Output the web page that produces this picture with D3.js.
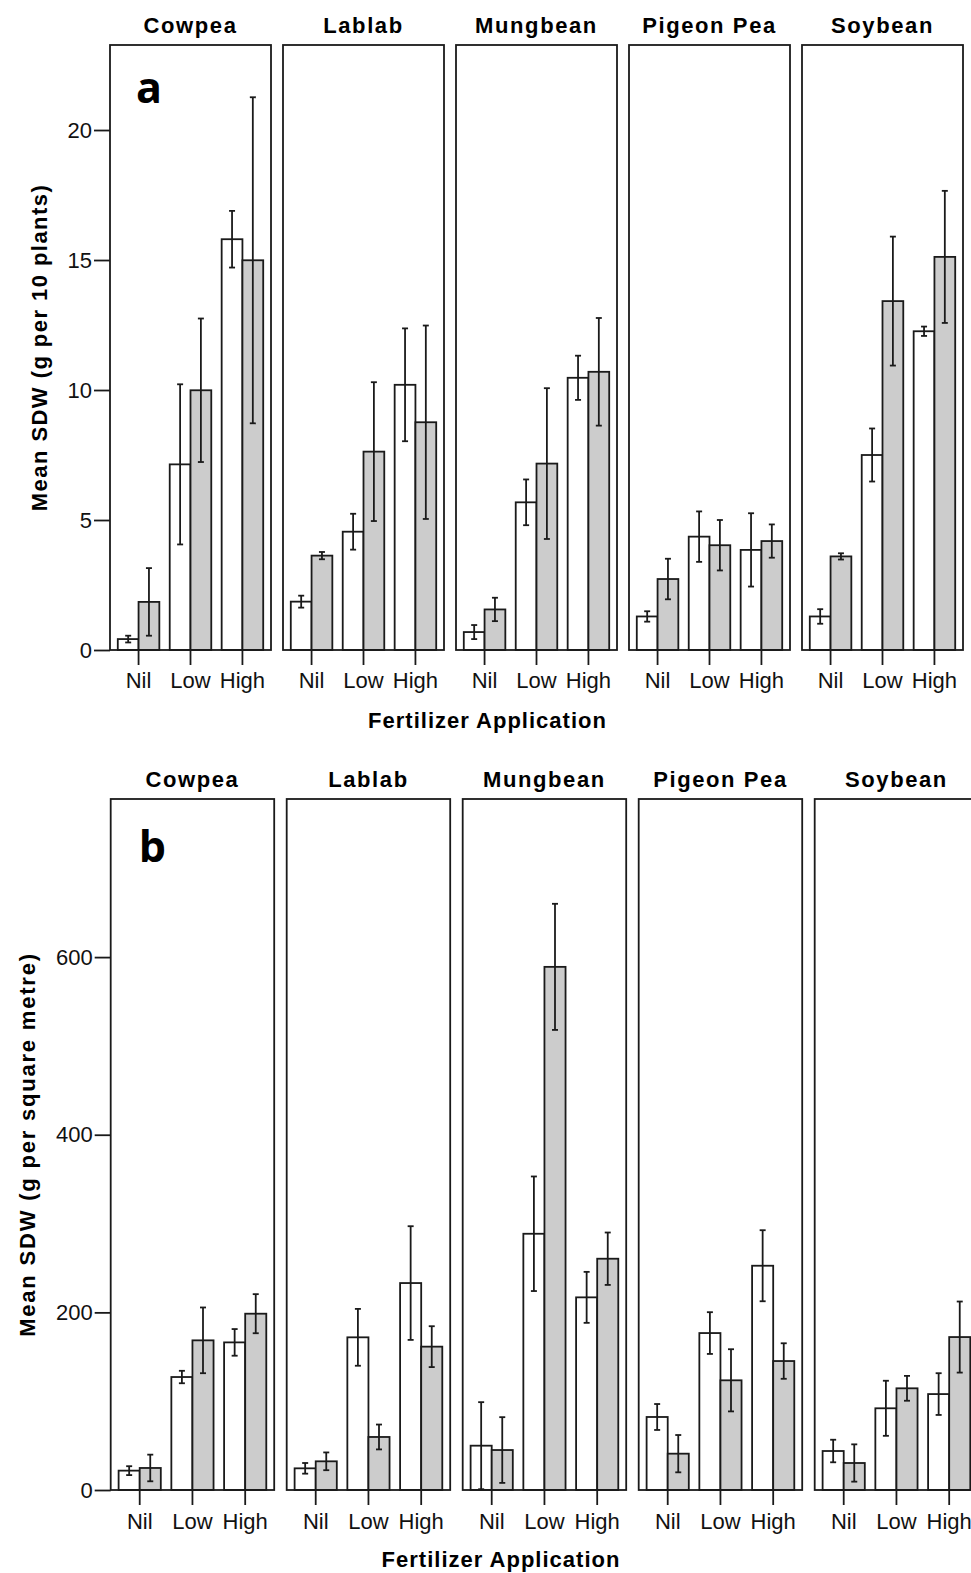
<!DOCTYPE html>
<html>
<head>
<meta charset="utf-8">
<script src="https://cdn.jsdelivr.net/npm/d3@7"></script>
<style>
  body { margin: 0; background: #fff; }
  svg { display: block; }
</style>
</head>
<body>
<div id="chart-area"></div>
<script>
// categorias e níveis
const crops = ["Cowpea", "Lablab", "Mungbean", "Pigeon Pea", "Soybean"]
const levels = ["Nil", "Low", "High"]
const series = ["open", "shaded"]

// painel a - g por 10 plantas (linhas = cultura, colunas = Nil/Low/High)
const plantsOpen = [[0.42, 7.14, 15.8], [1.86, 4.55, 10.2], [0.69, 5.68, 10.47], [1.29, 4.36, 3.85], [1.29, 7.5, 12.26]]
const plantsOpenErr = [[0.13, 3.08, 1.09], [0.23, 0.69, 2.17], [0.27, 0.88, 0.85], [0.2, 0.97, 1.41], [0.28, 1.02, 0.18]]
const plantsShaded = [[1.85, 9.99, 14.99], [3.63, 7.63, 8.76], [1.56, 7.17, 10.7], [2.73, 4.03, 4.19], [3.6, 13.42, 15.12]]
const plantsShadedErr = [[1.3, 2.76, 6.27], [0.14, 2.67, 3.72], [0.45, 2.9, 2.07], [0.78, 0.97, 0.64], [0.12, 2.48, 2.54]]
const plantsTicks = [0, 5, 10, 15, 20]

// painel b - g por metro quadrado
const areaOpen = [[21.8, 127.2, 166.2], [24.4, 171.9, 233], [49.9, 288.5, 216.9], [82.2, 176.7, 252.5], [43.9, 92, 108]]
const areaOpenErr = [[5, 7, 15], [6, 32, 64], [49, 64.5, 28.7], [14.6, 23.5, 40], [12.7, 31, 23.5]]
const areaShaded = [[24.8, 168.5, 198.5], [32.3, 59.7, 161.4], [45, 589, 260.4], [40.9, 123.5, 145.2], [30.4, 114.5, 172.2]]
const areaShadedErr = [[15, 37, 22], [10, 14, 23], [37, 71, 29.5], [21, 35, 20], [21, 14, 40]]
const areaTicks = [0, 200, 400, 600]

const W = 971
const H = 1573
const INK = "#1a1a1a"
const SANS = "'Liberation Sans', Arial, sans-serif"

const svg = d3.select("#chart-area").append("svg")
  .attr("width", W)
  .attr("height", H)

// desenha uma linha de 5 painéis
function drawSection(opt) {
  const y = d3.scaleLinear().domain([0, opt.yMax]).range([opt.bottom, opt.top])
  const x = d3.scaleBand().domain(levels).range([0, opt.panelW])
    .paddingInner(0.2).paddingOuter(0.15)
  const xs = d3.scaleBand().domain(series).range([0, x.bandwidth()])

  const sec = svg.append("g")

  crops.forEach((crop, ci) => {
    const px = opt.left + ci * opt.step
    const g = sec.append("g").attr("transform", `translate(${px}, 0)`)

    // título do painel
    g.append("text")
      .attr("x", opt.panelW / 2)
      .attr("y", opt.titleY)
      .attr("text-anchor", "middle")
      .attr("font-family", SANS)
      .attr("font-weight", "bold")
      .attr("font-size", "22px")
      .attr("letter-spacing", "1.6px")
      .text(crop)

    const rows = levels.map((lv, li) => [
      { lv, s: "open", v: opt.open[ci][li], e: opt.openErr[ci][li] },
      { lv, s: "shaded", v: opt.shaded[ci][li], e: opt.shadedErr[ci][li] }
    ]).flat()

    // barras
    g.selectAll("rect.bar").data(rows).enter().append("rect")
      .attr("class", "bar")
      .attr("x", d => x(d.lv) + xs(d.s))
      .attr("width", xs.bandwidth())
      .attr("y", d => y(d.v))
      .attr("height", d => y(0) - y(d.v))
      .attr("fill", d => d.s === "open" ? "#ffffff" : "#cccccc")
      .attr("stroke", INK)
      .attr("stroke-width", 1.8)

    // barras de erro
    const eb = g.selectAll("g.err").data(rows).enter().append("g")
      .attr("class", "err")
      .attr("transform", d => `translate(${x(d.lv) + xs(d.s) + xs.bandwidth() / 2}, 0)`)
      .attr("stroke", INK)
      .attr("stroke-width", 1.8)
    eb.append("line")
      .attr("y1", d => y(d.v + d.e)).attr("y2", d => y(Math.max(0, d.v - d.e)))
    eb.append("line")
      .attr("x1", -3).attr("x2", 3)
      .attr("y1", d => y(d.v + d.e)).attr("y2", d => y(d.v + d.e))
    eb.append("line")
      .attr("x1", -3).attr("x2", 3)
      .attr("y1", d => y(Math.max(0, d.v - d.e))).attr("y2", d => y(Math.max(0, d.v - d.e)))

    // moldura do painel
    g.append("rect")
      .attr("x", 0).attr("y", opt.top)
      .attr("width", opt.panelW).attr("height", opt.bottom - opt.top)
      .attr("fill", "none")
      .attr("stroke", INK)
      .attr("stroke-width", 1.8)

    // eixo x
    const xAxis = g.append("g")
      .attr("transform", `translate(0, ${opt.bottom})`)
      .call(d3.axisBottom(x).tickSize(15).tickSizeOuter(0).tickPadding(opt.xPad))
    xAxis.select(".domain").remove()
    xAxis.selectAll(".tick line").attr("stroke", INK).attr("stroke-width", 1.8)
    xAxis.selectAll("text")
      .attr("font-family", SANS)
      .attr("font-size", "22px")
      .attr("fill", "#111")

    // eixo y apenas no primeiro painel
    if (ci === 0) {
      const yAxis = g.append("g")
        .call(d3.axisLeft(y).tickValues(opt.ticks).tickSize(16).tickPadding(2).tickSizeOuter(0))
      yAxis.select(".domain").remove()
      yAxis.selectAll(".tick line").attr("stroke", INK).attr("stroke-width", 1.8)
      yAxis.selectAll("text")
        .attr("font-family", SANS)
        .attr("font-size", "22px")
        .attr("fill", "#111")

      // letra do painel
      g.append("text")
        .attr("x", opt.letterX)
        .attr("y", opt.letterY)
        .attr("font-family", "'Open Sans', sans-serif")
        .attr("font-weight", "bold")
        .attr("font-size", "43px")
        .text(opt.letter)
    }
  })

  // título do eixo x
  sec.append("text")
    .attr("x", opt.xTitleX)
    .attr("y", opt.xTitleY)
    .attr("text-anchor", "middle")
    .attr("font-family", SANS)
    .attr("font-weight", "bold")
    .attr("font-size", "22px")
    .attr("letter-spacing", "1px")
    .text("Fertilizer Application")

  // título do eixo y
  sec.append("text")
    .attr("transform", `translate(${opt.yTitleX}, ${(opt.top + opt.bottom) / 2}) rotate(-90)`)
    .attr("text-anchor", "middle")
    .attr("font-family", SANS)
    .attr("font-weight", "bold")
    .attr("font-size", "22px")
    .attr("letter-spacing", opt.yTitleLs)
    .text(opt.yTitle)
}

drawSection({
  open: plantsOpen, openErr: plantsOpenErr, shaded: plantsShaded, shadedErr: plantsShadedErr,
  ticks: plantsTicks, yMax: 23.27, top: 45, bottom: 650,
  left: 110, panelW: 161, step: 173,
  titleY: 33, xPad: 7, xTitleX: 487.5, xTitleY: 728,
  yTitle: "Mean SDW (g per 10 plants)", yTitleX: 47, yTitleLs: "1.45px",
  letter: "a", letterX: 26, letterY: 103
})

drawSection({
  open: areaOpen, openErr: areaOpenErr, shaded: areaShaded, shadedErr: areaShadedErr,
  ticks: areaTicks, yMax: 778, top: 799, bottom: 1490,
  left: 110.7, panelW: 163.5, step: 176,
  titleY: 787, xPad: 8.5, xTitleX: 501, xTitleY: 1567,
  yTitle: "Mean SDW (g per square metre)", yTitleX: 35, yTitleLs: "1.8px",
  letter: "b", letterX: 28, letterY: 862
})
</script>
</body>
</html>
